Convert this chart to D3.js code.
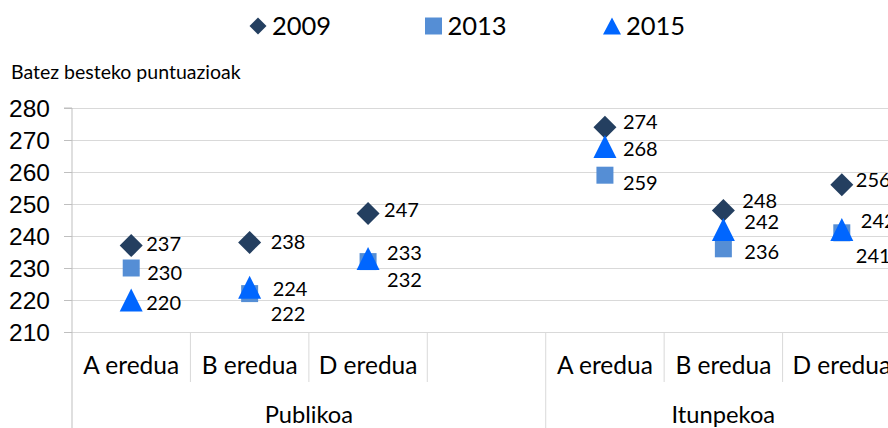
<!DOCTYPE html>
<html>
<head>
<meta charset="utf-8">
<script src="https://cdn.jsdelivr.net/npm/d3@7"></script>
<style>
  body { margin: 0; background: #fff; }
  svg { display: block; font-family: Lato, 'Noto Sans', sans-serif; }
</style>
</head>
<body>
<div id="chart"></div>
<script>
// datos
const groups = ['Publikoa', 'Itunpekoa']
const categoryGroup = [0, 0, 0, 0, 1, 1, 1]
const categories = ['A eredua', 'B eredua', 'D eredua', '', 'A eredua', 'B eredua', 'D eredua']
const years = ['2009', '2013', '2015']
const values2009 = [237, 238, 247, null, 274, 248, 256]
const values2013 = [230, 222, 232, null, 259, 236, 241]
const values2015 = [220, 224, 233, null, 268, 242, 242]
const yTicks = [210, 220, 230, 240, 250, 260, 270, 280]
const yTitle = 'Batez besteko puntuazioak'

// label offsets (dx, dy) per year, per category
const labelOffsets = [
  [[15, -2], [21, -1], [16, -4], null, [18, -5], [19, -10], [14, -5]],
  [[16, 5], [21, 20], [19, 18], null, [18, 8], [21, 3], [14, 23]],
  [[15, 3], [23, 2], [19, -6], null, [18, 2], [21, -8], [19, -9]]
]

const colors = ['#243F60', '#558ED5', '#0066FF']

const W = 888
const H = 428
const plotLeft = 72
const slot = 118.43
const plotTop = 108
const plotBottom = 332

const svg = d3.select('#chart').append('svg')
  .attr('width', W)
  .attr('height', H)

const x = d3.scaleBand()
  .domain(d3.range(categories.length))
  .range([plotLeft, plotLeft + slot * categories.length])
  .padding(0)

const y = d3.scaleLinear()
  .domain([210, 280])
  .range([plotBottom, plotTop])

// marker shapes
const diamond = r => ({
  draw (ctx) {
    ctx.moveTo(0, -r); ctx.lineTo(r, 0); ctx.lineTo(0, r); ctx.lineTo(-r, 0); ctx.closePath()
  }
})
const square = s => ({
  draw (ctx) { ctx.rect(-s / 2, -s / 2, s, s) }
})
const triangle = (w, h) => ({
  draw (ctx) {
    ctx.moveTo(0, -h / 2); ctx.lineTo(w / 2, h / 2); ctx.lineTo(-w / 2, h / 2); ctx.closePath()
  }
})
const markerTypes = [diamond(11.5), square(17), triangle(23, 23)]
const legendTypes = [diamond(8.5), square(17), triangle(18, 17)]

// grid
svg.append('g')
  .attr('transform', `translate(${plotLeft},0)`)
  .call(d3.axisLeft(y).tickValues(yTicks).tickSize(-(W - plotLeft)).tickFormat(''))
  .call(g => g.select('.domain').remove())
  .selectAll('line').attr('stroke', '#D9D9D9')

// y axis
const yAxis = svg.append('g')
  .attr('transform', `translate(${plotLeft},0)`)
  .call(d3.axisLeft(y).tickValues(yTicks).tickSize(8).tickPadding(14))
yAxis.select('.domain').attr('stroke', '#BFBFBF').attr('d', `M-8,${plotTop}H0V${H}`)
yAxis.selectAll('.tick line').attr('stroke', '#BFBFBF')
yAxis.selectAll('.tick text')
  .attr('fill', '#000')
  .style('font-size', '24.5px')
  .attr('dy', '0.36em')

svg.append('text')
  .attr('x', 11)
  .attr('y', 79)
  .style('font-size', '19.5px')
  .text(yTitle)

// separators of categories
const bounds = d3.range(1, categories.length + 1)
const boundX = i => i < categories.length ? x(i) : x.range()[1]
svg.append('g').selectAll('line')
  .data(bounds)
  .join('line')
  .attr('x1', boundX)
  .attr('x2', boundX)
  .attr('y1', plotBottom)
  .attr('y2', i => (i < categories.length && categoryGroup[i] !== categoryGroup[i - 1]) ? H : 382)
  .attr('stroke', '#D9D9D9')

svg.append('g').selectAll('text')
  .data(categories)
  .join('text')
  .attr('x', (d, i) => x(i) + x.bandwidth() / 2)
  .attr('y', 374)
  .attr('text-anchor', 'middle')
  .style('font-size', '24.5px')
  .text(d => d)

svg.append('g').selectAll('text')
  .data(groups)
  .join('text')
  .attr('x', (d, gi) => {
    const idx = categoryGroup.map((g, i) => g === gi ? i : -1).filter(i => i >= 0)
    return (x(d3.min(idx)) + x(d3.max(idx)) + x.bandwidth()) / 2
  })
  .attr('y', 423)
  .attr('text-anchor', 'middle')
  .style('font-size', '23.7px')
  .text(d => d)

// points
const seriesValues = [values2009, values2013, values2015]
const order = [0, 1, 2]
order.forEach(si => {
  const pts = seriesValues[si].map((v, i) => ({ v, i })).filter(p => p.v !== null)
  svg.append('g').selectAll('path')
    .data(pts)
    .join('path')
    .attr('transform', p => `translate(${x(p.i) + x.bandwidth() / 2},${y(p.v)})`)
    .attr('d', d3.symbol().type(markerTypes[si]))
    .attr('fill', colors[si])
})
order.forEach(si => {
  const pts = seriesValues[si].map((v, i) => ({ v, i })).filter(p => p.v !== null)
  svg.append('g').selectAll('text')
    .data(pts)
    .join('text')
    .attr('x', p => x(p.i) + x.bandwidth() / 2 + labelOffsets[si][p.i][0])
    .attr('y', p => y(p.v) + labelOffsets[si][p.i][1])
    .attr('dy', '0.36em')
    .style('font-size', '20px')
    .text(p => p.v)
})

// legend
const legendX = [258, 433.5, 612]
const legend = svg.append('g').selectAll('g')
  .data(years)
  .join('g')
  .attr('transform', (d, i) => `translate(${legendX[i]},26)`)
legend.append('path')
  .attr('d', (d, i) => d3.symbol().type(legendTypes[i])())
  .attr('fill', (d, i) => colors[i])
legend.append('text')
  .attr('x', 14)
  .attr('y', 9)
  .style('font-size', '25.5px')
  .text(d => d)
</script>
</body>
</html>
